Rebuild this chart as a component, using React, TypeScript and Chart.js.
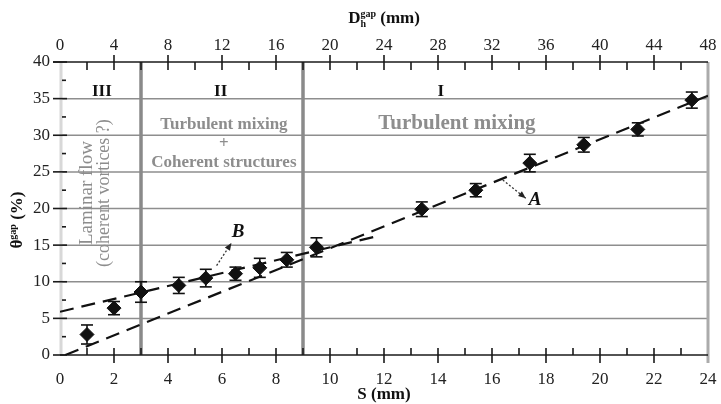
import { useEffect, useRef } from "react";
import { Chart, registerables } from "chart.js";
Chart.register(...registerables);

// Measured data: S (mm) vs theta^gap (%)
const S_MM = [1.0, 2.0, 3.0, 4.4, 5.4, 6.5, 7.4, 8.4, 9.5, 13.4, 15.4, 17.4, 19.4, 21.4, 23.4];
const THETA = [2.8, 6.4, 8.6, 9.5, 10.5, 11.1, 11.9, 13.0, 14.7, 19.9, 22.5, 26.2, 28.7, 30.8, 34.8];
const ERR = [1.3, 0.9, 1.4, 1.1, 1.2, 0.9, 1.3, 1.0, 1.3, 1.0, 0.9, 1.2, 1.0, 0.9, 1.1];

// Fit lines A and B (end points)
const LINE_A_S = [0.2, 24];
const LINE_A_T = [0, 35.4];
const LINE_B_S = [0, 11.6];
const LINE_B_T = [5.9, 16.1];

// Region boundaries (S, mm)
const REGION_BOUNDS = [3, 9];

// Axis ranges
const S_RANGE = [0, 24];
const DH_RANGE = [0, 48];
const THETA_RANGE = [0, 40];

const SERIF = '"Liberation Serif", "DejaVu Serif", "Times New Roman", serif';
const GREY_TXT = "#8d8d8d";

type Seg = { t: string; size: number; dy: number; bold?: boolean; italic?: boolean; stackWithPrev?: boolean };

function drawRich(ctx: CanvasRenderingContext2D, segs: Seg[], cx: number, cy: number, color: string) {
  const fontOf = (s: Seg) => `${s.italic ? "italic " : ""}${s.bold ? "bold " : ""}${s.size}px ${SERIF}`;
  const items: { seg: Seg; x: number; w: number }[] = [];
  let x = 0;
  let prevStart = 0;
  let prevW = 0;
  for (const s of segs) {
    ctx.font = fontOf(s);
    const w = ctx.measureText(s.t).width;
    if (s.stackWithPrev) {
      items.push({ seg: s, x: prevStart, w });
      const maxW = Math.max(prevW, w);
      x = prevStart + maxW;
      prevW = maxW;
    } else {
      items.push({ seg: s, x, w });
      prevStart = x;
      prevW = w;
      x += w;
    }
  }
  const total = x;
  ctx.fillStyle = color;
  ctx.textBaseline = "middle";
  ctx.textAlign = "left";
  for (const it of items) {
    ctx.font = fontOf(it.seg);
    ctx.fillText(it.seg.t, cx - total / 2 + it.x, cy + it.seg.dy);
  }
}

function text(ctx: CanvasRenderingContext2D, t: string, x: number, y: number, font: string, color: string, rot = 0) {
  ctx.save();
  ctx.translate(x, y);
  if (rot) ctx.rotate(rot);
  ctx.font = font;
  ctx.fillStyle = color;
  ctx.textAlign = "center";
  ctx.textBaseline = "middle";
  ctx.fillText(t, 0, 0);
  ctx.restore();
}

function arrow(ctx: CanvasRenderingContext2D, x1: number, y1: number, x2: number, y2: number) {
  ctx.save();
  ctx.strokeStyle = "#333";
  ctx.lineWidth = 1.3;
  ctx.setLineDash([2, 2]);
  ctx.beginPath();
  ctx.moveTo(x1, y1);
  ctx.lineTo(x2, y2);
  ctx.stroke();
  ctx.setLineDash([]);
  const ang = Math.atan2(y2 - y1, x2 - x1);
  ctx.fillStyle = "#222";
  ctx.beginPath();
  ctx.moveTo(x2, y2);
  ctx.lineTo(x2 - 8 * Math.cos(ang - 0.4), y2 - 8 * Math.sin(ang - 0.4));
  ctx.lineTo(x2 - 8 * Math.cos(ang + 0.4), y2 - 8 * Math.sin(ang + 0.4));
  ctx.closePath();
  ctx.fill();
  ctx.restore();
}

const decoPlugin = {
  id: "deco",
  beforeDatasetsDraw(chart: any) {
    const { ctx, chartArea: a, scales } = chart;
    const xs = scales.x;
    const x2 = scales.x2;
    const ys = scales.y;
    const ln = (x1: number, y1: number, xx: number, yy: number) => {
      ctx.beginPath();
      ctx.moveTo(x1, y1);
      ctx.lineTo(xx, yy);
      ctx.stroke();
    };
    ctx.save();
    ctx.strokeStyle = "#8e8e8e";
    ctx.lineWidth = 1.5;
    for (let v = 5; v < THETA_RANGE[1]; v += 5) {
      const py = ys.getPixelForValue(v);
      ln(a.left, py, a.right, py);
    }
    ctx.strokeStyle = "#d8d8d8";
    ctx.lineWidth = 3;
    ln(a.left + 1, a.top, a.left + 1, a.bottom);
    ctx.strokeStyle = "#8a8a8a";
    ctx.lineWidth = 3.5;
    for (const b of REGION_BOUNDS) {
      const px = xs.getPixelForValue(b);
      ln(px, a.top, px, a.bottom);
    }
    ctx.strokeStyle = "#ababab";
    ctx.lineWidth = 3;
    ln(a.right, a.top, a.right, a.bottom + 8);
    ctx.strokeStyle = "#1a1a1a";
    ctx.lineWidth = 1.6;
    ln(a.left, a.bottom, a.right, a.bottom);
    ln(a.left - 7, a.top, a.right, a.top);
    for (let s = S_RANGE[0]; s <= S_RANGE[1]; s += 1) {
      const px = xs.getPixelForValue(s);
      if (s === 0 || s === 24) continue;
      if (s % 2 === 0) ln(px, a.bottom - 7, px, a.bottom + 8);
      else ln(px, a.bottom - 7, px, a.bottom);
    }
    for (let d = DH_RANGE[0] + 2; d < DH_RANGE[1]; d += 2) {
      const px = x2.getPixelForValue(d);
      if (d % 4 === 0) ln(px, a.top - 7, px, a.top + 8);
      else ln(px, a.top, px, a.top + 8);
    }
    for (let v = THETA_RANGE[0]; v <= THETA_RANGE[1]; v += 5) {
      const py = ys.getPixelForValue(v);
      ln(a.left - 7, py, a.left + 7, py);
      if (v < THETA_RANGE[1]) {
        const pm = ys.getPixelForValue(v + 2.5);
        ln(a.left + 2, pm, a.left + 6, pm);
      }
    }
    ctx.strokeStyle = "#111";
    ctx.lineWidth = 1.6;
    for (let i = 0; i < S_MM.length; i++) {
      const px = xs.getPixelForValue(S_MM[i]);
      const pt = ys.getPixelForValue(THETA[i] + ERR[i]);
      const pb = ys.getPixelForValue(THETA[i] - ERR[i]);
      ln(px, pt, px, pb);
      ln(px - 6, pt, px + 6, pt);
      ln(px - 6, pb, px + 6, pb);
    }
    ctx.restore();
  },
  afterDatasetsDraw(chart: any) {
    const { ctx, chartArea: a, scales } = chart;
    const xs = scales.x;
    const ys = scales.y;
    ctx.save();
    const X = (v: number) => xs.getPixelForValue(v);
    const Y = (v: number) => ys.getPixelForValue(v);
    const romanFont = `bold 17px ${SERIF}`;
    text(ctx, "III", X(1.55), Y(35.9), romanFont, "#111");
    text(ctx, "II", X(5.95), Y(35.9), romanFont, "#111");
    text(ctx, "I", X(14.1), Y(35.9), romanFont, "#111");
    text(ctx, "Turbulent mixing", X(6.07), Y(31.5), `bold 17px ${SERIF}`, GREY_TXT);
    text(ctx, "+", X(6.07), Y(28.9), `bold 17px ${SERIF}`, GREY_TXT);
    text(ctx, "Coherent structures", X(6.07), Y(26.3), `bold 17px ${SERIF}`, GREY_TXT);
    text(ctx, "Turbulent mixing", X(14.7), Y(31.6), `bold 21px ${SERIF}`, GREY_TXT);
    text(ctx, "Laminar flow", X(1.0), Y(22.1), `19px ${SERIF}`, GREY_TXT, -Math.PI / 2);
    text(ctx, "(coherent vortices ?)", X(1.65), Y(22.1), `18px ${SERIF}`, GREY_TXT, -Math.PI / 2);
    text(ctx, "B", X(6.6), Y(16.8), `italic bold 19px ${SERIF}`, "#111");
    arrow(ctx, X(5.8), Y(12.2), X(6.35), Y(15.3));
    text(ctx, "A", X(17.6), Y(21.2), `italic bold 19px ${SERIF}`, "#111");
    arrow(ctx, X(16.4), Y(23.9), X(17.25), Y(21.4));
    drawRich(
      ctx,
      [
        { t: "D", size: 17, dy: 0, bold: true },
        { t: "h", size: 10, dy: 5, bold: true },
        { t: "gap", size: 10, dy: -5, bold: true, stackWithPrev: true },
        { t: " (mm)", size: 17, dy: 0, bold: true },
      ],
      (a.left + a.right) / 2,
      19,
      "#111"
    );
    drawRich(ctx, [{ t: "S (mm)", size: 17, dy: 0, bold: true }], (a.left + a.right) / 2, 395, "#111");
    ctx.save();
    ctx.translate(18, 220);
    ctx.rotate(-Math.PI / 2);
    drawRich(
      ctx,
      [
        { t: "θ", size: 17, dy: 0, bold: true },
        { t: "gap", size: 10, dy: -5, bold: true },
        { t: " (%)", size: 17, dy: 0, bold: true },
      ],
      0,
      0,
      "#111"
    );
    ctx.restore();
    ctx.restore();
  },
};

export default function App() {
  const ref = useRef<HTMLCanvasElement | null>(null);
  useEffect(() => {
    document.body.style.margin = "0";
    const canvas = ref.current!;
    const tickFont = { family: SERIF, size: 17 };
    const fitX = (h: number) => (s: any) => {
      s.height = h;
      s.paddingLeft = 0;
      s.paddingRight = 0;
    };
    const chart = new Chart(canvas, {
      type: "scatter",
      data: {
        datasets: [
          {
            label: "A",
            data: LINE_A_S.map((s, i) => ({ x: s, y: LINE_A_T[i] })),
            showLine: true,
            borderColor: "#111",
            borderWidth: 2.2,
            borderDash: [14, 8],
            pointRadius: 0,
            order: 2,
          },
          {
            label: "B",
            data: LINE_B_S.map((s, i) => ({ x: s, y: LINE_B_T[i] })),
            showLine: true,
            borderColor: "#111",
            borderWidth: 2.2,
            borderDash: [14, 8],
            pointRadius: 0,
            order: 2,
          },
          {
            label: "theta",
            data: S_MM.map((s, i) => ({ x: s, y: THETA[i] })),
            showLine: false,
            pointStyle: "rectRot",
            pointRadius: 7,
            backgroundColor: "#111",
            borderColor: "#111",
            borderWidth: 1,
            order: 1,
          },
        ],
      },
      options: {
        animation: false,
        responsive: false,
        maintainAspectRatio: false,
        layout: { padding: { left: 0, right: 13, top: 0, bottom: 0 } },
        plugins: { legend: { display: false }, tooltip: { enabled: false } },
        scales: {
          x: {
            type: "linear",
            position: "bottom",
            min: S_RANGE[0],
            max: S_RANGE[1],
            afterFit: fitX(49),
            grid: { display: false },
            border: { display: false },
            ticks: { stepSize: 2, autoSkip: false, maxRotation: 0, padding: 6, font: tickFont, color: "#222" },
          },
          x2: {
            type: "linear",
            position: "top",
            min: DH_RANGE[0],
            max: DH_RANGE[1],
            afterFit: fitX(62),
            grid: { display: false },
            border: { display: false },
            ticks: { stepSize: 4, autoSkip: false, maxRotation: 0, padding: -2, font: tickFont, color: "#222" },
          },
          y: {
            type: "linear",
            position: "left",
            min: THETA_RANGE[0],
            max: THETA_RANGE[1],
            afterFit: (s: any) => {
              s.width = 60;
              s.paddingTop = 0;
              s.paddingBottom = 0;
            },
            grid: { display: false },
            border: { display: false },
            ticks: { stepSize: 5, autoSkip: false, padding: 2, font: tickFont, color: "#222" },
          },
        },
      } as any,
      plugins: [decoPlugin],
    });
    return () => chart.destroy();
  }, []);
  return (
    <div style={{ position: "absolute", left: 0, top: 0, width: 721, height: 404, background: "#fff" }}>
      <canvas ref={ref} width={721} height={404} style={{ display: "block" }} />
    </div>
  );
}
